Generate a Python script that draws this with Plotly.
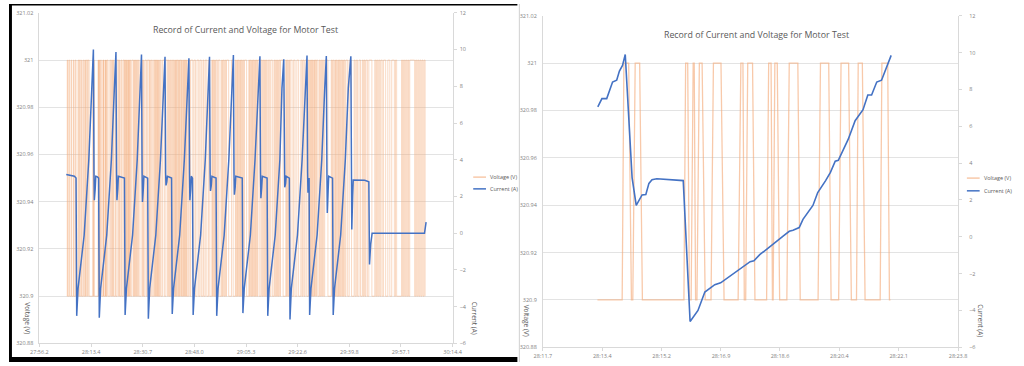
import plotly.graph_objects as go

# ---------------- data: left panel (full test) ----------------
left_tick_vals = [1676.2, 1693.475, 1710.75, 1728.025, 1745.3, 1762.575, 1779.85, 1797.125, 1814.4]
left_tick_text = ["27:56.2", "28:13.4", "28:30.7", "28:48.0", "29:05.3", "29:22.6", "29:39.8", "29:57.1", "30:14.4"]

# voltage toggles between two readings; times (s) at which the reading flips
volt_low = 320.9
volt_high = 321.0
left_volt_start = 1685.40
left_volt_edges = [
    1685.50, 1685.65, 1686.04, 1686.3, 1686.81, 1687.0, 1687.58, 1687.75, 1688.2, 1688.45,
    1689.1, 1689.33, 1689.6, 1689.9, 1690.31, 1690.45, 1690.9, 1691.19, 1691.5, 1691.65,
    1691.9, 1692.3, 1692.5, 1692.83,
    1694.03, 1694.24, 1694.35, 1694.56, 1695.83, 1695.94, 1696.05, 1696.13, 1696.22, 1696.38,
    1696.63, 1696.93, 1697.43, 1697.55, 1697.64, 1697.84, 1698.25, 1698.37, 1698.43, 1698.56,
    1698.84, 1699.16, 1699.75, 1700.06, 1700.35, 1700.65, 1700.86, 1701.05, 1701.55, 1701.77,
    1702.2, 1702.68, 1702.9, 1703.1, 1703.5, 1703.77, 1704.2, 1704.54, 1704.7, 1704.9,
    1705.05, 1705.3, 1705.45, 1705.6, 1705.85, 1706.0, 1706.15, 1706.3, 1706.5, 1706.72,
    1707.1, 1707.60, 1707.8, 1708.0, 1708.3, 1708.5, 1708.7, 1709.0, 1709.3, 1709.57,
    1710.2, 1710.66, 1710.9, 1711.1, 1711.5, 1711.98, 1712.3, 1712.85, 1713.0, 1713.3,
    1713.6, 1713.95, 1714.4, 1714.71, 1714.9, 1715.1, 1715.3, 1715.5, 1715.7, 1715.9,
    1716.1, 1716.3, 1716.6, 1716.90, 1717.4, 1717.99, 1718.5, 1719.09, 1719.3, 1719.6,
    1719.85, 1720.1, 1720.4, 1720.73, 1721.0, 1721.28, 1721.5, 1721.7, 1721.9, 1722.1,
    1722.3, 1722.6, 1722.8, 1723.0, 1723.2, 1723.5, 1723.7, 1723.9, 1724.15, 1724.4,
    1724.6, 1724.8, 1725.0, 1725.2, 1725.4, 1725.65, 1726.1, 1726.53, 1726.8, 1727.51,
    1727.9, 1728.39, 1728.9, 1729.48, 1729.9, 1730.36, 1730.9, 1731.2, 1731.67, 1732.2,
    1732.77, 1733.2, 1733.86, 1734.1, 1734.3, 1734.55, 1734.8, 1735.05, 1735.3, 1735.7,
    1736.05, 1736.6, 1737.14, 1737.35, 1737.6, 1737.9, 1738.2, 1738.5, 1738.78, 1739.5,
    1740.43, 1741.0, 1741.74, 1741.95, 1742.2, 1742.45, 1742.7, 1742.95, 1743.2, 1743.45,
    1743.7, 1743.95, 1744.2, 1744.5, 1744.80, 1745.5, 1746.23, 1746.45, 1746.7, 1746.95,
    1747.2, 1747.45, 1747.7, 1747.95, 1748.2, 1748.45, 1748.7, 1748.95, 1749.18, 1749.7,
    1750.27, 1750.6, 1750.9, 1751.2, 1751.5, 1751.8, 1752.1, 1752.4, 1752.8, 1753.2,
    1753.56, 1754.1, 1754.65, 1754.9, 1755.2, 1755.5, 1755.8, 1756.05, 1756.3, 1756.6,
    1756.84, 1757.7, 1758.59, 1758.85, 1759.1, 1759.35, 1759.6, 1759.85, 1760.12, 1760.7,
    1761.22, 1761.7, 1762.31, 1762.9, 1763.62, 1764.0, 1764.3, 1764.7, 1765.05, 1765.6,
    1766.14, 1766.35, 1766.6, 1766.85, 1767.1, 1767.3, 1767.5, 1767.75, 1768.0, 1768.2,
    1768.4, 1768.65, 1768.87, 1769.3, 1769.75, 1770.0, 1770.3, 1770.6, 1770.9, 1771.25,
    1771.61, 1772.7, 1773.80, 1774.05, 1774.3, 1774.65, 1775.0, 1775.2, 1775.44, 1775.7,
    1775.99, 1776.25, 1776.5, 1776.75, 1777.0, 1777.3, 1777.6, 1777.85, 1778.1, 1778.4,
    1778.72, 1779.3, 1779.82, 1780.6, 1781.46, 1781.8, 1782.2, 1782.6, 1783.10, 1783.6,
    1784.19, 1784.5, 1784.8, 1785.1, 1785.4, 1785.9, 1786.38, 1787.4, 1788.36, 1788.7,
    1789.0, 1789.35, 1789.7, 1790.05, 1790.4, 1790.85, 1791.31, 1792.0, 1792.73, 1793.4,
    1794.04, 1794.92, 1795.3, 1795.68, 1797.32, 1797.65, 1798.0, 1798.35, 1798.7, 1799.05,
    1799.4, 1799.7, 1800.06, 1801.70, 1802.05, 1802.4, 1802.75, 1803.1, 1803.45, 1803.8,
    1804.15, 1804.5, 1804.85, 1805.20]

left_cur_t = [1685.17, 1686.5, 1687.9, 1688.45, 1688.67, 1689.12, 1691.17, 1692.72, 1693.72, 1694.25,
              1694.45, 1694.57, 1694.85, 1695.05, 1695.5, 1696.0, 1696.22, 1696.67, 1698.72, 1700.27,
              1701.27, 1701.80, 1702.0, 1702.12, 1702.4, 1702.6, 1704.64, 1704.86, 1705.31, 1707.36,
              1708.91, 1709.91, 1710.34, 1710.54, 1710.66, 1710.94, 1711.14, 1712.41, 1712.63, 1713.08,
              1715.13, 1716.68, 1717.68, 1718.21, 1718.41, 1718.53, 1718.81, 1719.01, 1720.40, 1720.62,
              1721.07, 1723.12, 1724.67, 1725.67, 1726.20, 1726.40, 1726.52, 1726.80, 1727.0, 1727.40,
              1727.62, 1728.07, 1730.12, 1731.67, 1732.67, 1733.09, 1733.29, 1733.41, 1733.69, 1733.89,
              1735.28, 1735.50, 1735.95, 1738.0, 1739.55, 1740.55, 1741.08, 1741.28, 1741.40, 1741.68,
              1741.88, 1744.04, 1744.26, 1744.71, 1746.76, 1748.31, 1749.31, 1749.95, 1750.15, 1750.27,
              1750.55, 1750.75, 1752.35, 1752.57, 1753.02, 1755.07, 1756.62, 1757.32, 1757.93, 1758.13,
              1758.25, 1758.53, 1758.73, 1759.79, 1760.01, 1760.46, 1762.51, 1764.06, 1765.06, 1765.70,
              1765.90, 1766.02, 1766.25, 1766.40, 1766.58, 1767.03, 1769.08, 1770.63, 1771.63, 1772.16,
              1772.36, 1772.48, 1772.76, 1772.96, 1774.24, 1774.46, 1774.91, 1776.96, 1778.51, 1779.51,
              1780.36, 1780.56, 1780.68, 1780.96, 1781.16, 1785.0, 1786.38, 1786.6, 1787.0, 1787.48,
              1805.0, 1805.53]
left_cur_v = [3.2, 3.15, 3.1, 3.0, -4.5, -3.0, -0.1, 4.0, 7.9, 10.0,
              3.3, 1.8, 2.4, 3.1, 3.08, 3.0, -4.6, -3.0, -0.1, 4.0,
              7.9, 9.86, 3.3, 1.8, 2.4, 3.1, 3.0, -4.45, -3.0, -0.1,
              4.0, 7.9, 9.73, 3.3, 1.7, 2.4, 3.1, 3.0, -4.65, -3.0,
              -0.1, 4.0, 7.9, 9.61, 3.3, 2.6, 2.8, 3.1, 3.0, -4.4,
              -3.0, -0.1, 4.0, 7.9, 9.52, 3.3, 1.8, 2.4, 3.1, 3.0,
              -4.45, -3.0, -0.1, 4.0, 7.9, 9.61, 3.3, 2.3, 2.6, 3.1,
              3.0, -4.5, -3.0, -0.1, 4.0, 7.9, 9.70, 3.3, 2.1, 2.5,
              3.1, 3.0, -4.35, -3.0, -0.1, 4.0, 7.9, 9.63, 3.3, 1.9,
              2.5, 3.1, 3.0, -4.5, -3.0, -0.1, 4.0, 7.9, 9.47, 3.3,
              2.5, 2.7, 3.1, 3.0, -4.7, -3.0, -0.1, 4.0, 7.9, 9.68,
              3.3, 2.2, 2.9, 3.0, -4.45, -3.0, -0.1, 4.0, 7.9, 9.65,
              3.3, 1.1, 2.3, 3.1, 3.0, -4.45, -3.0, -0.1, 4.0, 7.9,
              9.63, 3.3, 0.2, 2.0, 2.9, 2.88, 2.8, -1.7, -0.6, 0.0,
              0.0, 0.6]

# ---------------- data: right panel (zoomed window) ----------------
right_tick_vals = [1691.7, 1693.43, 1695.16, 1696.89, 1698.61, 1700.34, 1702.07, 1703.8]
right_tick_text = ["28:11.7", "28:13.4", "28:15.2", "28:16.9", "28:18.6", "28:20.4", "28:22.1", "28:23.8"]

right_volt_t = [1693.29, 1694.01, 1694.06, 1694.20, 1694.28, 1694.32, 1694.39, 1694.52, 1694.60, 1695.81,
                1695.86, 1695.92, 1695.97, 1696.02, 1696.08, 1696.11, 1696.15, 1696.19, 1696.26, 1696.34,
                1696.43, 1696.60, 1696.67, 1696.89, 1696.98, 1697.39, 1697.47, 1697.53, 1697.57, 1697.61,
                1697.67, 1697.81, 1697.88, 1698.22, 1698.28, 1698.35, 1698.39, 1698.41, 1698.46, 1698.53,
                1698.60, 1698.81, 1698.88, 1699.13, 1699.20, 1699.72, 1699.79, 1700.03, 1700.10, 1700.32,
                1700.39, 1700.61, 1700.69, 1700.84, 1700.89, 1701.01, 1701.09, 1701.53, 1701.58, 1701.75,
                1701.80, 1701.83]
right_volt_v = [320.9, 320.9, 321.0, 321.0, 320.9, 320.9, 321.0, 321.0, 320.9, 320.9,
                321.0, 321.0, 320.9, 320.9, 321.0, 321.0, 320.9, 320.9, 321.0, 321.0,
                320.9, 320.9, 321.0, 321.0, 320.9, 320.9, 321.0, 321.0, 320.9, 320.9,
                321.0, 321.0, 320.9, 320.9, 321.0, 321.0, 320.9, 320.9, 321.0, 321.0,
                320.9, 320.9, 321.0, 321.0, 320.9, 320.9, 321.0, 321.0, 320.9, 320.9,
                321.0, 321.0, 320.9, 320.9, 321.0, 321.0, 320.9, 320.9, 321.0, 321.0,
                320.9, 320.9]

right_cur_t = [1693.30, 1693.42, 1693.56, 1693.73, 1693.85, 1693.93, 1694.02, 1694.10, 1694.30, 1694.42,
               1694.59, 1694.70, 1694.79, 1694.88, 1695.02, 1695.30, 1695.59, 1695.79, 1695.99, 1696.22,
               1696.42, 1696.71, 1696.88, 1697.36, 1697.56, 1697.74, 1697.85, 1698.02, 1698.31, 1698.59,
               1698.71, 1698.88, 1698.99, 1699.17, 1699.28, 1699.57, 1699.71, 1699.94, 1700.08, 1700.22,
               1700.31, 1700.60, 1700.80, 1701.03, 1701.17, 1701.28, 1701.43, 1701.57, 1701.85]
right_cur_v = [7.05, 7.5, 7.5, 8.4, 8.5, 9.0, 9.3, 9.9, 3.2, 1.7,
               2.27, 2.3, 2.9, 3.1, 3.15, 3.12, 3.05, 3.05, -4.6, -4.0,
               -3.0, -2.6, -2.5, -1.85, -1.6, -1.35, -1.3, -0.97, -0.55, -0.1,
               0.05, 0.3, 0.35, 0.5, 0.95, 1.7, 2.4, 3.05, 3.5, 4.1,
               4.15, 5.3, 6.3, 6.9, 7.7, 7.7, 8.4, 8.5, 9.85]

volt_ticks = [320.88, 320.9, 320.92, 320.94, 320.96, 320.98, 321.0, 321.02]
volt_tick_text = ["320.88", "320.9", "320.92", "320.94", "320.96", "320.98", "321", "321.02"]
cur_ticks = [-6, -4, -2, 0, 2, 4, 6, 8, 10, 12]

title_text = "Record of Current and Voltage for Motor Test"
series_names = ["Voltage (V)", "Current (A)"]

# ---------------- build left voltage polyline from flip times ----------------
lv_x, lv_y = [left_volt_start], [volt_low]
level = volt_low
for t in left_volt_edges:
    lv_x.append(t); lv_y.append(level)
    level = volt_high if level == volt_low else volt_low
    lv_x.append(t); lv_y.append(level)

VCOL = "rgba(244,172,124,0.5)"
VCOL_R = "rgba(244,172,124,0.65)"
CCOL = "#4472C4"
GRID = "#E3E3E3"
AXL = "#D9D9D9"
TXT = "#7F7F7F"
TTL = "#595959"
FONT = "Open Sans"

fig = go.Figure()
fig.add_trace(go.Scatter(x=lv_x, y=lv_y, mode="lines", line=dict(color=VCOL, width=0.9),
                         name=series_names[0], xaxis="x", yaxis="y", showlegend=False))
fig.add_trace(go.Scatter(x=left_cur_t, y=left_cur_v, mode="lines", line=dict(color=CCOL, width=1.5),
                         name=series_names[1], xaxis="x", yaxis="y2", showlegend=False))
fig.add_trace(go.Scatter(x=right_volt_t, y=right_volt_v, mode="lines", line=dict(color=VCOL_R, width=1.3),
                         name=series_names[0], xaxis="x2", yaxis="y3", showlegend=False))
fig.add_trace(go.Scatter(x=right_cur_t, y=right_cur_v, mode="lines", line=dict(color=CCOL, width=1.6),
                         name=series_names[1], xaxis="x2", yaxis="y4", showlegend=False))

W, H = 1024, 366
def px(x):
    return x / W
def py(y):
    return 1 - y / H

tickfont = dict(family=FONT, size=5.5, color=TXT)
xcommon = dict(showgrid=False, zeroline=False, showline=True, linecolor=AXL, linewidth=1,
               ticks="outside", ticklen=3, tickcolor=AXL, tickfont=tickfont, tickmode="array")
vcommon = dict(range=[320.88, 321.02], tickmode="array", tickvals=volt_ticks, ticktext=volt_tick_text,
               showgrid=True, gridcolor=GRID, gridwidth=1, zeroline=False, showline=True,
               linecolor=AXL, ticks="", tickfont=tickfont, ticklabelstandoff=4)
ccommon = dict(range=[-6, 12], tickmode="array", tickvals=cur_ticks, side="right",
               showgrid=False, zeroline=False, showline=True, linecolor=AXL,
               ticks="outside", ticklen=3, tickcolor=AXL, tickfont=tickfont)

fig.update_layout(
    width=W, height=H, autosize=False,
    margin=dict(l=0, r=0, t=0, b=0),
    paper_bgcolor="white", plot_bgcolor="white",
    showlegend=False,
    xaxis=dict(domain=[px(31), px(452)], anchor="y", range=[1676.2, 1814.4],
               tickvals=left_tick_vals, ticktext=left_tick_text, **xcommon),
    yaxis=dict(domain=[py(347), py(9)], anchor="x", **vcommon),
    yaxis2=dict(domain=[py(347), py(9)], anchor="x", overlaying="y", ticklabelstandoff=2, **ccommon),
    xaxis2=dict(domain=[px(544), px(967)], anchor="y3", range=[1691.7, 1703.8],
                tickvals=right_tick_vals, ticktext=right_tick_text, **xcommon),
    yaxis3=dict(domain=[py(351), py(12)], anchor="x2", **vcommon),
    yaxis4=dict(domain=[py(351), py(12)], anchor="x2", overlaying="y3", ticklabelstandoff=6, **ccommon),
)

ann = []
shapes = []
# titles
ann.append(dict(text=title_text, x=px(241), y=py(27), xref="paper", yref="paper", showarrow=False,
                font=dict(family=FONT, size=8.8, color=TTL), xanchor="center", yanchor="middle"))
ann.append(dict(text=title_text, x=px(762), y=py(32), xref="paper", yref="paper", showarrow=False,
                font=dict(family=FONT, size=8.8, color=TTL), xanchor="center", yanchor="middle"))
# axis titles (rotated)
for xx, yy, txt in [(18, 321, "Voltage (V)"), (474, 321, "Current (A)"),
                    (527, 324, "Voltage (V)"), (989, 324, "Current (A)")]:
    ann.append(dict(text=txt, x=px(xx), y=py(yy), xref="paper", yref="paper", showarrow=False,
                    textangle=90, font=dict(family=FONT, size=6.5, color=TTL),
                    xanchor="center", yanchor="middle"))
# legends
for lx, ly, col, txt in [(473, 177, VCOL_R, "Voltage (V)"), (473, 189, CCOL, "Current (A)"),
                         (976, 178, VCOL_R, "Voltage (V)"), (976, 191, CCOL, "Current (A)")]:
    shapes.append(dict(type="line", xref="paper", yref="paper", x0=px(lx), x1=px(lx + 13),
                       y0=py(ly), y1=py(ly), line=dict(color=col, width=1.5)))
    ann.append(dict(text=txt, x=px(lx + 15), y=py(ly), xref="paper", yref="paper", showarrow=False,
                    font=dict(family=FONT, size=5.5, color=TTL), xanchor="left", yanchor="middle"))

# screenshot frame: black edges of left capture, divider line of right capture
shapes.append(dict(type="rect", xref="paper", yref="paper", x0=0, x1=px(3), y0=0, y1=1,
                   fillcolor="black", line=dict(width=0), layer="above"))
shapes.append(dict(type="rect", xref="paper", yref="paper", x0=0, x1=px(518), y0=py(1.5), y1=1,
                   fillcolor="black", line=dict(width=0), layer="above"))
shapes.append(dict(type="rect", xref="paper", yref="paper", x0=0, x1=px(518), y0=0, y1=py(361),
                   fillcolor="black", line=dict(width=0), layer="above"))
shapes.append(dict(type="line", xref="paper", yref="paper", x0=px(520), x1=px(520), y0=0, y1=1,
                   line=dict(color="#D0D0D0", width=1), layer="above"))

fig.update_layout(annotations=ann, shapes=shapes)
fig.write_html("out.html", config={"displayModeBar": False},
               post_script="document.body.style.margin='0';document.body.style.overflow='hidden';")
